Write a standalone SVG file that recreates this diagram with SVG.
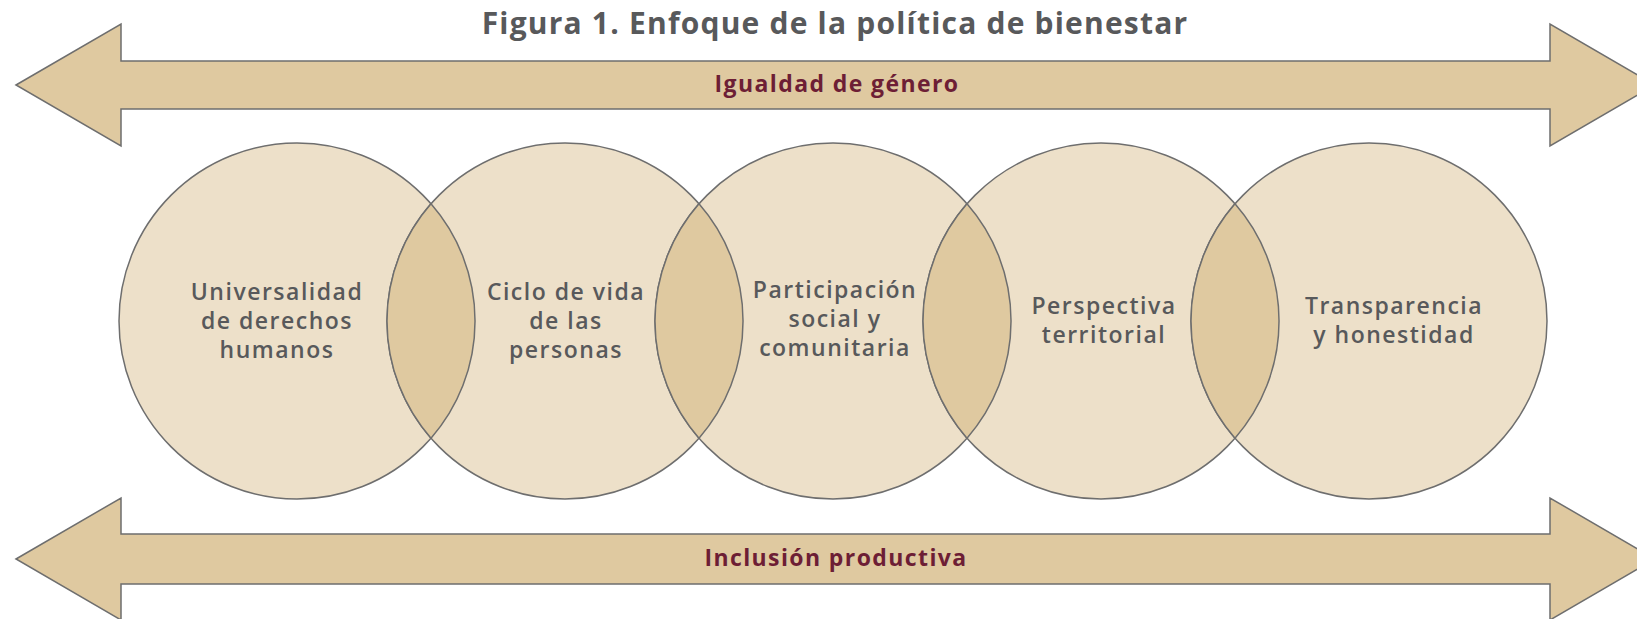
<svg xmlns="http://www.w3.org/2000/svg" width="1637" height="619" viewBox="0 0 1637 619">
<style>
.arrow{fill:#DFC9A0;stroke:#6E6E6E;stroke-width:1.5}
.circ{fill:#EDE0C9;stroke:#6E6E6E;stroke-width:1.5}
.lens{fill:#DFC9A0;stroke:#6E6E6E;stroke-width:1.5}
.title{font-family:"Open Sans","Liberation Sans",sans-serif;font-weight:700;font-size:30px;letter-spacing:1.2px;fill:#58595B;text-anchor:middle}
.band{font-family:"Open Sans","Liberation Sans",sans-serif;font-weight:700;font-size:23px;letter-spacing:1.4px;fill:#6D1E35;text-anchor:middle}
.lbl{font-family:"Open Sans","Liberation Sans",sans-serif;font-weight:600;font-size:23px;letter-spacing:1.5px;fill:#58595B;text-anchor:middle}
</style>
<rect width="1637" height="619" fill="#FFFFFF"/>
<text class="title" x="835" y="34">Figura 1. Enfoque de la política de bienestar</text>
<g id="arrow-top">
<polygon class="arrow" points="16,85 121,24 121,61 1550,61 1550,24 1655,85 1550,146 1550,109 121,109 121,146"/>
<text class="band" x="837" y="92">Igualdad de género</text>
</g>
<g id="arrow-bottom">
<polygon class="arrow" points="16,559 121,498 121,534 1550,534 1550,498 1655,559 1550,620 1550,584 121,584 121,620"/>
<text class="band" x="836" y="566">Inclusión productiva</text>
</g>
<g id="n1">
<circle class="circ" cx="297" cy="321" r="178"/>
<text class="lbl" x="277" y="300">Universalidad</text>
<text class="lbl" x="277" y="329">de derechos</text>
<text class="lbl" x="277" y="358">humanos</text>
</g>
<g id="n2">
<circle class="circ" cx="565" cy="321" r="178"/>
<text class="lbl" x="566" y="300">Ciclo de vida</text>
<text class="lbl" x="566" y="329">de las</text>
<text class="lbl" x="566" y="358">personas</text>
</g>
<g id="n3">
<circle class="circ" cx="833" cy="321" r="178"/>
<text class="lbl" x="835" y="298">Participación</text>
<text class="lbl" x="835" y="327">social y</text>
<text class="lbl" x="835" y="356">comunitaria</text>
</g>
<g id="n4">
<circle class="circ" cx="1101" cy="321" r="178"/>
<text class="lbl" x="1104" y="314">Perspectiva</text>
<text class="lbl" x="1104" y="343">territorial</text>
</g>
<g id="n5">
<circle class="circ" cx="1369" cy="321" r="178"/>
<text class="lbl" x="1394" y="314">Transparencia</text>
<text class="lbl" x="1394" y="343">y honestidad</text>
</g>
<g id="connectors">
<path class="lens" d="M431,203.8 A178,178 0 0 0 431,438.2 A178,178 0 0 0 431,203.8 Z"/>
<path class="lens" d="M699,203.8 A178,178 0 0 0 699,438.2 A178,178 0 0 0 699,203.8 Z"/>
<path class="lens" d="M967,203.8 A178,178 0 0 0 967,438.2 A178,178 0 0 0 967,203.8 Z"/>
<path class="lens" d="M1235,203.8 A178,178 0 0 0 1235,438.2 A178,178 0 0 0 1235,203.8 Z"/>
</g>
</svg>
